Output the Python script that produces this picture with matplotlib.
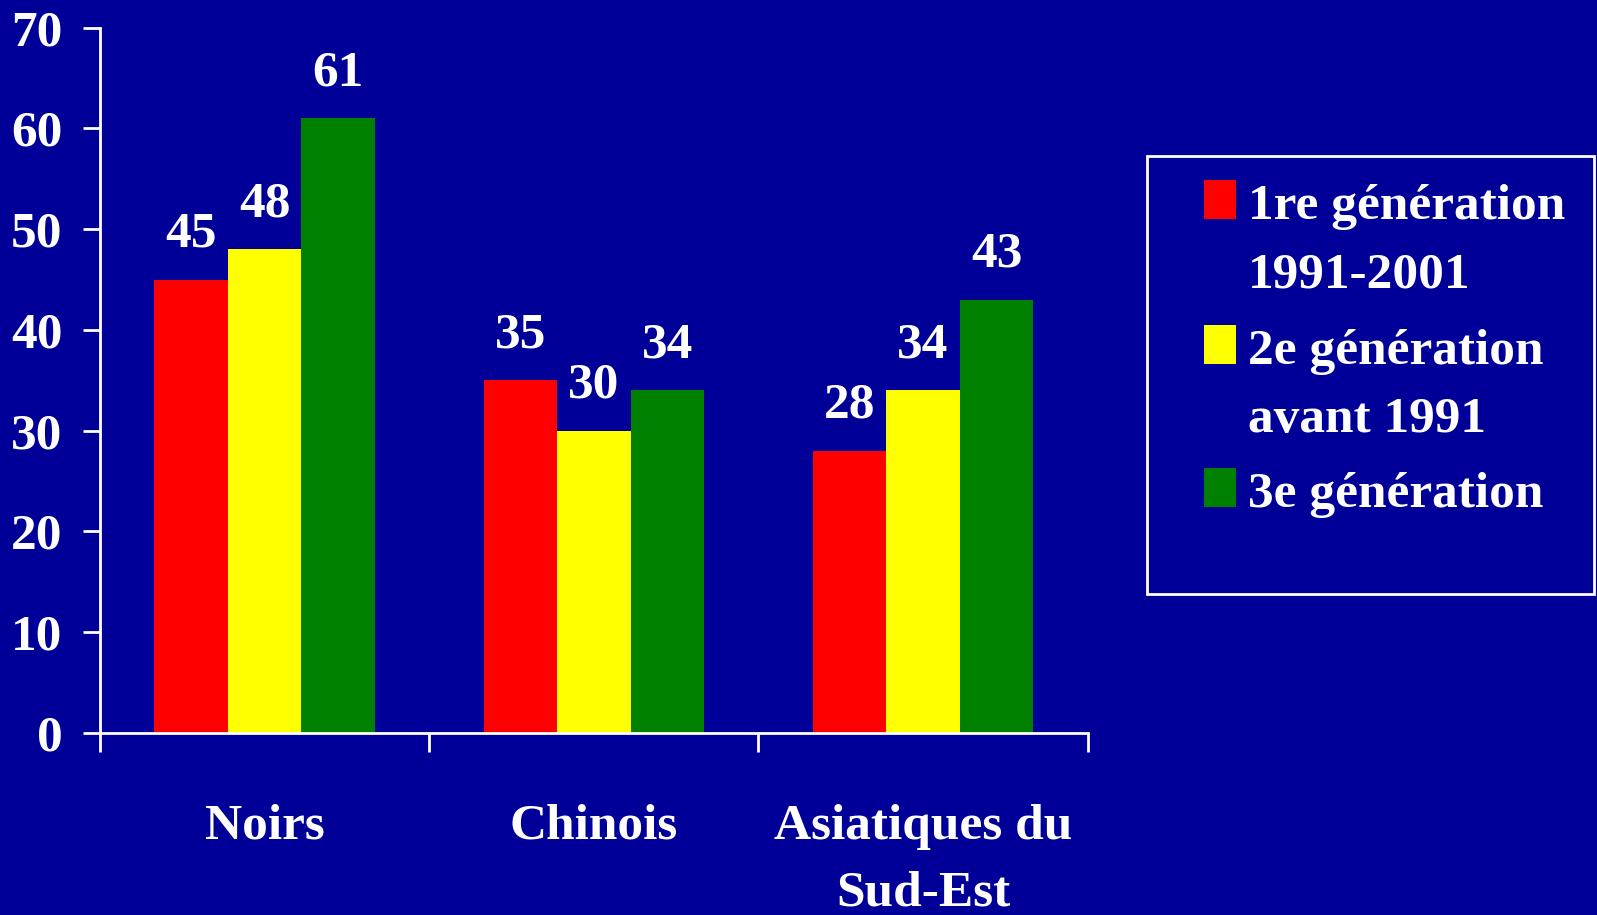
import matplotlib
matplotlib.use("Agg")
import matplotlib.pyplot as plt
from matplotlib.patches import Rectangle
import numpy as np

categories = ["Noirs", "Chinois", "Asiatiques du\nSud-Est"]
series_names = ["1re génération\n1991-2001", "2e génération\navant 1991", "3e génération"]
gen1 = [45, 35, 28]
gen2 = [48, 30, 34]
gen3 = [61, 34, 43]
y_ticks = [0, 10, 20, 30, 40, 50, 60, 70]

BG = "#000099"
COLORS = ["#ff0000", "#ffff00", "#008000"]
FONT = "Liberation Serif"
FS = 37

plt.rcParams["font.family"] = FONT
plt.rcParams["font.weight"] = "bold"

fig = plt.figure(figsize=(15.97, 9.15), dpi=100, facecolor=BG)
ax = fig.add_axes([0.0626, 0.1992, 0.6185, 0.7705], facecolor=BG)

x = np.arange(len(categories))
w = 0.223
for i, vals in enumerate([gen1, gen2, gen3]):
    bars = ax.bar(x + (i - 1) * w, vals, width=w, color=COLORS[i], linewidth=0, zorder=2)
    ax.bar_label(bars, padding=16, color="white", fontsize=FS, fontweight="bold")

ax.set_xlim(-0.5, len(categories) - 0.5)
ax.set_ylim(0, 70)
ax.set_yticks(y_ticks)

ax.set_xticks(np.arange(len(categories) + 1) - 0.5)
ax.set_xticklabels([])
ax.set_xticks(x, minor=True)
ax.set_xticklabels(categories, minor=True, linespacing=1.6)

ax.tick_params(axis="y", colors="white", length=12, width=2, labelsize=FS, pad=15)
ax.tick_params(axis="x", which="major", colors="white", length=14, width=2)
ax.tick_params(axis="x", which="minor", length=0, labelsize=FS, labelcolor="white", pad=51)

for s in ["top", "right"]:
    ax.spines[s].set_visible(False)
for s in ["left", "bottom"]:
    ax.spines[s].set_color("white")
    ax.spines[s].set_linewidth(2)

# legend box drawn by hand so the swatches sit on the first line of each label
W, H = 1597.0, 915.0
fig.patches.append(Rectangle((1147 / W, 1 - 594 / H), (1594 - 1147) / W, (594 - 156) / H,
                             transform=fig.transFigure, fill=False, edgecolor="white", linewidth=2))
swatch_tops = [180, 325, 468]
line_gap = 68
for name, color, top in zip(series_names, COLORS, swatch_tops):
    fig.patches.append(Rectangle((1204 / W, 1 - (top + 39) / H), 32 / W, 39 / H,
                                 transform=fig.transFigure, facecolor=color, edgecolor="none"))
    for k, line in enumerate(name.split("\n")):
        fig.text(1248 / W, 1 - (top + 39 + k * line_gap) / H, line, color="white",
                 fontsize=FS, fontweight="bold", ha="left", va="baseline")

fig.savefig("out.png", dpi=100, facecolor=BG)
